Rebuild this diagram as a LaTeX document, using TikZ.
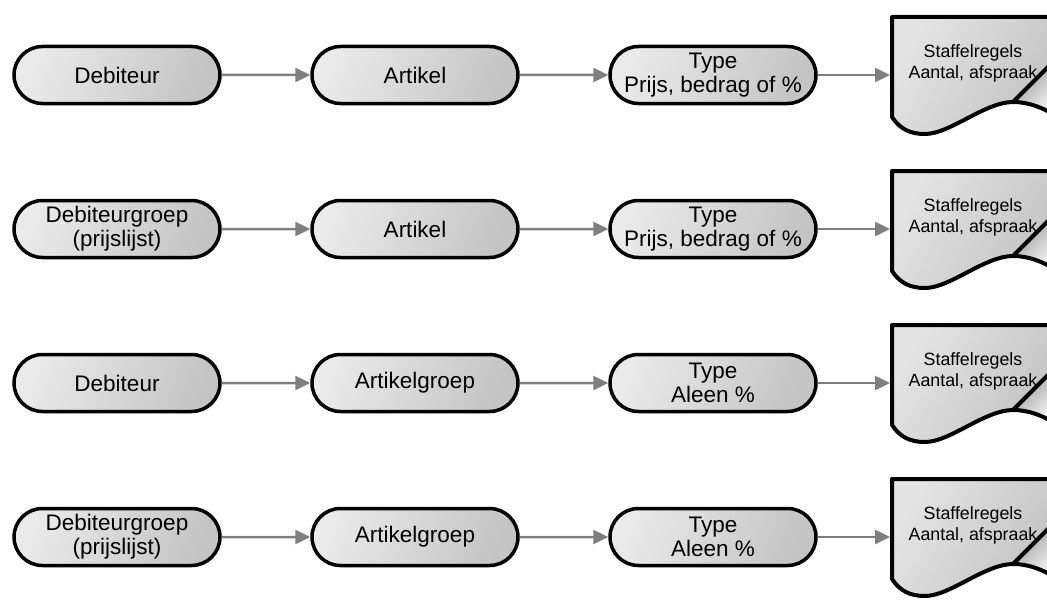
\documentclass[tikz,border=0pt]{standalone}
\usepackage{fontspec}
\setmainfont{Liberation Sans}
\usetikzlibrary{shapes.misc,arrows.meta}
\definecolor{pillA}{HTML}{EAEAEA}
\definecolor{pillB}{HTML}{C4C4C4}
\definecolor{docA}{HTML}{E4E4E4}
\definecolor{docB}{HTML}{C2C2C2}
\definecolor{curlA}{HTML}{8C8C8C}
\definecolor{arrowgray}{HTML}{7F7F7F}

% one row: pill -> pill -> pill -> document
\newcommand\chainrow[5]{%
  \begin{scope}[shift={(0,#2)}]
    \node[pill] (a#1) at (117,0) {#3};
    \node[pill] (b#1) at (415,0) {#4};
    \node[pill] (c#1) at (713,0) {#5};
    % document body
    \path[docfill] (892,-58) -- (1060,-58) -- (1060,-20) -- (1013,27)
      .. controls (985,27) and (950,59) .. (925,59)
      .. controls (910,59) and (900,54) .. (892,42) -- cycle;
    % page curl
    \path[curlfill] (1013,27) -- (1060,-20) -- (1060,43)
      .. controls (1042,32) and (1028,27) .. (1013,27) -- cycle;
    \draw[docline] (1060,-58) -- (892,-58) -- (892,42)
      .. controls (900,54) and (910,59) .. (925,59)
      .. controls (950,59) and (985,27) .. (1013,27)
      .. controls (1028,27) and (1042,32) .. (1060,43);
    \draw[docline] (1013,27) -- (1060,-20);
    \coordinate (d#1) at (890,0);
    \node[doctext] (s#1) at (973,-12) {Staffelregels\\Aantal, afspraak};
    \draw[arr] (a#1) -- (b#1);
    \draw[arr] (b#1) -- (c#1);
    \draw[arr] (c#1.east) -- (d#1);
  \end{scope}}

\begin{document}
\begin{tikzpicture}[x=1pt,y=-1pt,
  pill/.style={rounded rectangle, draw=black, line width=3.5pt,
    minimum width=206pt, minimum height=57pt, inner sep=0pt, align=center,
    font=\fontsize{22.5}{24}\selectfont,
    left color=pillA, right color=pillB, shading angle=70},
  docfill/.style={left color=docA, right color=docB, shading angle=60},
  curlfill/.style={left color=curlA, right color=white, shading angle=45},
  docline/.style={draw=black, line width=4pt, line join=round},
  doctext/.style={inner sep=0pt, align=center, font=\fontsize{17.8}{21}\selectfont},
  arr/.style={draw=arrowgray, line width=2.5pt, -{Triangle[length=15pt,width=14pt]}}]
  \useasboundingbox (0,0) rectangle (1047,610);
  \clip (0,0) rectangle (1047,610);
  \chainrow{1}{75}{Debiteur}{Artikel}{Type\\Prijs, bedrag of \%}
  \chainrow{2}{229}{Debiteurgroep\\(prijslijst)}{Artikel}{Type\\Prijs, bedrag of \%}
  \chainrow{3}{383}{Debiteur}{Artikelgroep}{Type\\Aleen \%}
  \chainrow{4}{537}{Debiteurgroep\\(prijslijst)}{Artikelgroep}{Type\\Aleen \%}
\end{tikzpicture}
\end{document}
